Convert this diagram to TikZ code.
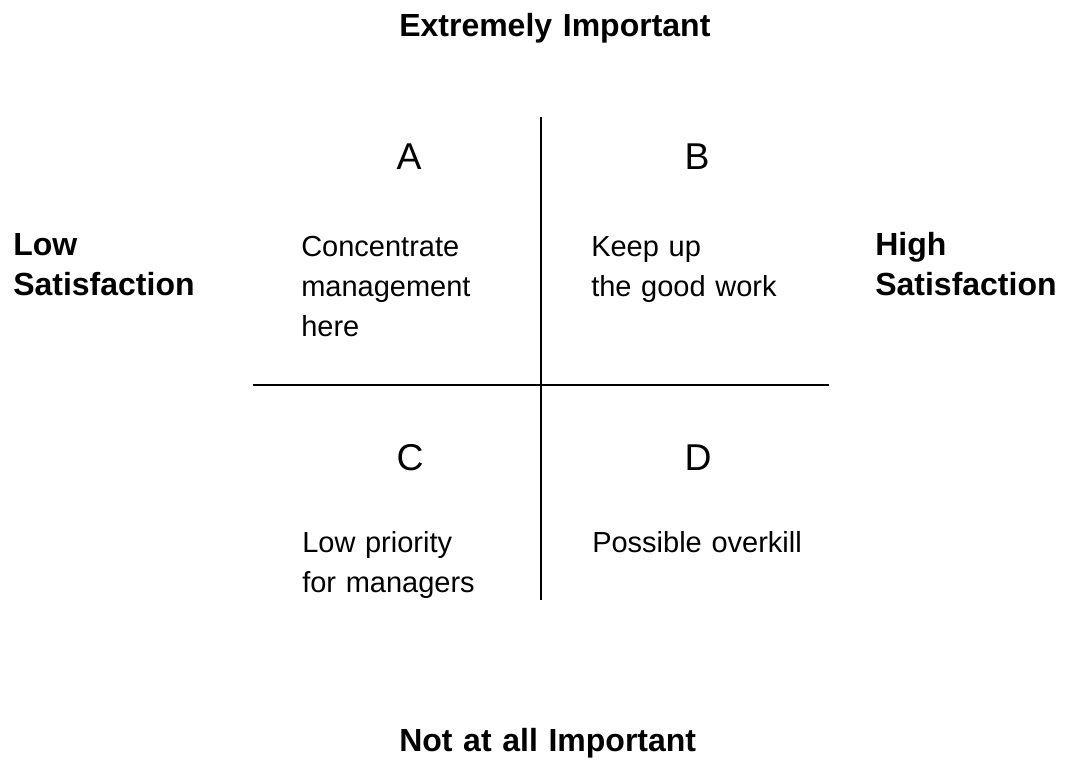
\documentclass[tikz,border=0pt]{standalone}
\usepackage{fontspec}
\setmainfont{Liberation Sans}
\tikzset{
  axislabel/.style={font=\fontsize{24}{30}\selectfont\bfseries, inner sep=0pt, anchor=base west, text width=12cm, align=left},
  quadletter/.style={font=\fontsize{28}{34}\selectfont, inner sep=0pt, anchor=base},
  quadtext/.style={font=\fontsize{21.75}{30}\selectfont, inner sep=0pt, anchor=base west, text width=8cm, align=left},
  divider/.style={line width=1.5pt},
}
\begin{document}
\begin{tikzpicture}[x=0.75pt,y=-0.75pt]
\useasboundingbox (0,0) rectangle (1065,770);
% axis labels
\node[axislabel] (top) at (399,37) {Extremely Important};
\node[axislabel] (bottom) at (399,751) {Not at all Important};
\node[axislabel] (low) at (13,256) {Low\\Satisfaction};
\node[axislabel] (high) at (875,256) {High\\Satisfaction};
% quadrants
\foreach \q/\x/\y in {A/409/170,B/697/170,C/410/470,D/698/470} {
  \node[quadletter] (\q) at (\x,\y) {\q};
}
\node[quadtext] (textA) at (301,257) {Concentrate\\management\\here};
\node[quadtext] (textB) at (591,257) {Keep up\\the good work};
\node[quadtext] (textC) at (302,552) {Low priority\\for managers};
\node[quadtext] (textD) at (592,552) {Possible overkill};
% cross
\coordinate (north) at (541,117);
\coordinate (south) at (541,600);
\coordinate (west) at (253,385);
\coordinate (east) at (829,385);
\draw[divider] (north) -- (south);
\draw[divider] (west) -- (east);
\end{tikzpicture}
\end{document}
